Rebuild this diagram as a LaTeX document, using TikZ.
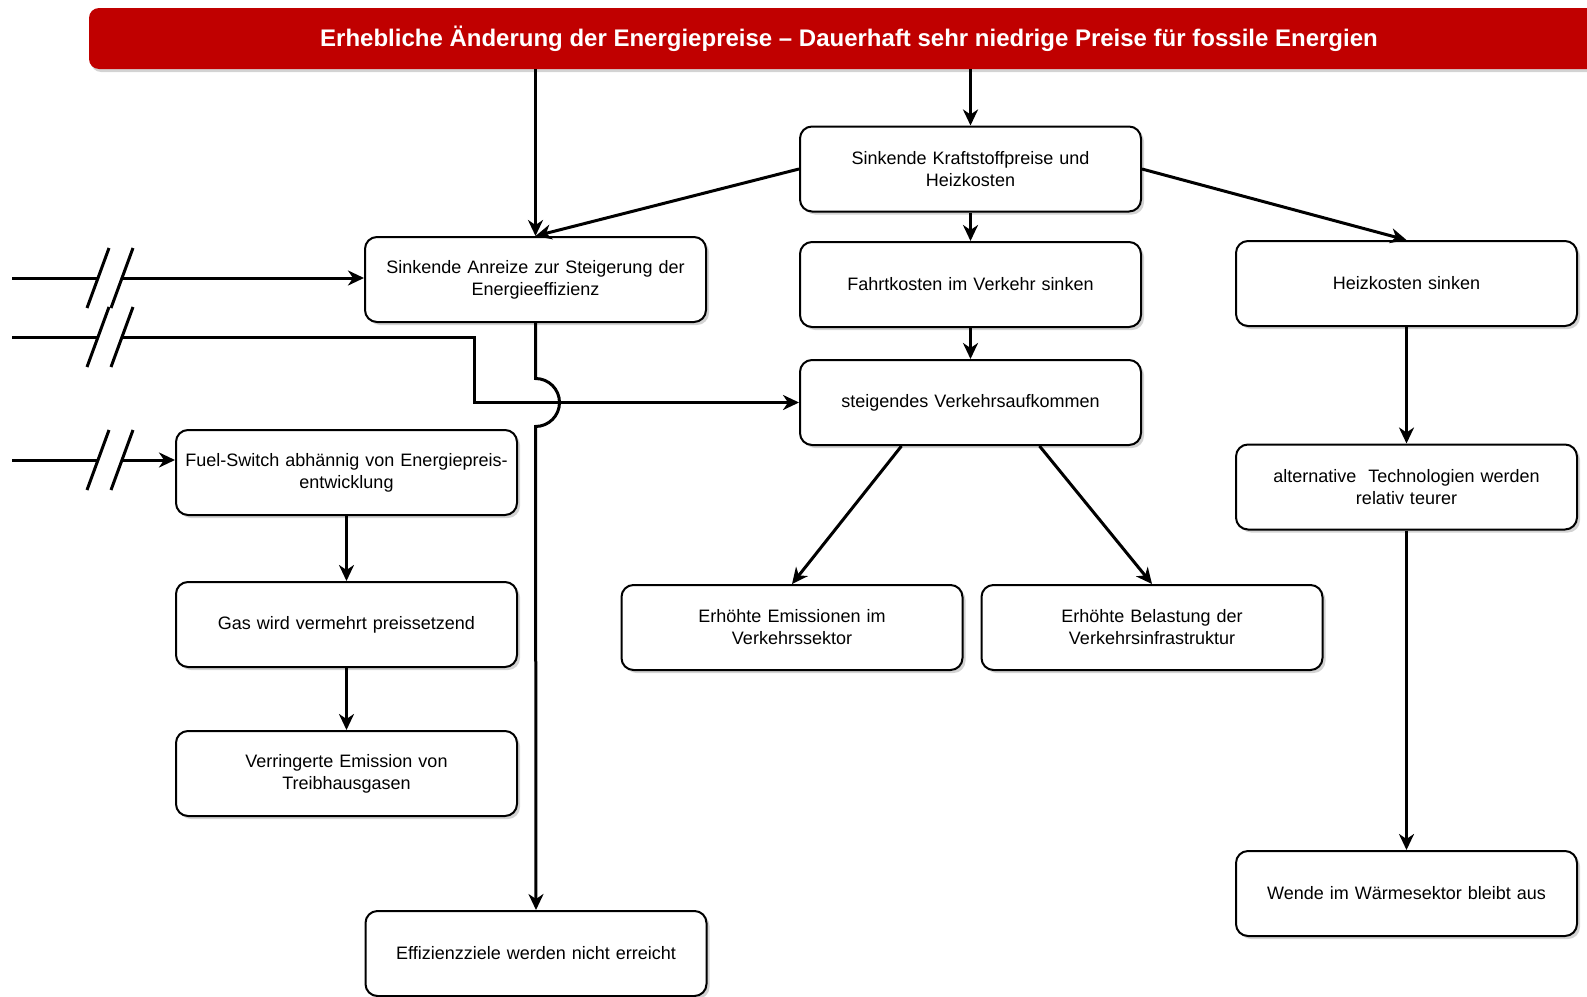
\documentclass[tikz,border=0pt]{standalone}
\usepackage{fontspec}
\setmainfont{Liberation Sans}
\usepackage{tikz}
\usepackage{xcolor}
\usetikzlibrary{
    arrows.meta,
    shadows,
    calc,
    positioning
}
\definecolor{headred}{HTML}{C00000}

\begin{document}
\begin{tikzpicture}[x=1pt, y=-1pt,
    box/.style={draw, line width=2pt, rounded corners=12pt, fill=white,
        minimum width=341pt, minimum height=85pt, text width=325pt, align=center,
        font=\fontsize{18}{22}\selectfont,
        drop shadow={shadow xshift=3pt, shadow yshift=-3pt, opacity=0.35}},
    headbar/.style={fill=headred, rounded corners=10pt, minimum width=1520pt, minimum height=61pt,
        text=white, font=\fontsize{24}{28}\selectfont\bfseries,
        drop shadow={shadow xshift=2pt, shadow yshift=-3pt, opacity=0.35}},
    link/.style={line width=3pt, -{Stealth[length=16pt, width=15pt, inset=5pt]}},
    wire/.style={line width=3pt}]
    \useasboundingbox (0, 0) rectangle (1587, 996);

    \node[headbar] (title) at (849, 38.5) {Erhebliche Änderung der Energiepreise – Dauerhaft sehr niedrige Preise für fossile Energien};

    \node[box] (kraft) at (970.5, 169) {Sinkende Kraftstoffpreise und\\Heizkosten};
    \node[box] (anreize) at (535.5, 279.5) {Sinkende Anreize zur Steigerung der\\Energieeffizienz};
    \node[box] (fahrt) at (970.5, 284.5) {Fahrtkosten im Verkehr sinken};
    \node[box] (heiz) at (1406.5, 283.5) {Heizkosten sinken};
    \node[box] (verkehr) at (970.5, 402.5) {steigendes Verkehrsaufkommen};
    \node[box] (fuel) at (346.5, 472.5) {Fuel-Switch abhännig von Energiepreis-\\entwicklung};
    \node[box] (alt) at (1406.5, 487) {alternative \ Technologien werden\\relativ teurer};
    \node[box] (emiss) at (792, 627.5) {Erhöhte Emissionen im\\Verkehrssektor};
    \node[box] (belast) at (1152, 627.5) {Erhöhte Belastung der\\Verkehrsinfrastruktur};
    \node[box] (gas) at (346.5, 624.5) {Gas wird vermehrt preissetzend};
    \node[box] (verr) at (346.5, 773.5) {Verringerte Emission von\\Treibhausgasen};
    \node[box] (wende) at (1406.5, 893.5) {Wende im Wärmesektor bleibt aus};
    \node[box] (effiz) at (536, 953.5) {Effizienzziele werden nicht erreicht};

    \foreach \y [count=\i] in {278, 337, 460} {
        \coordinate (src\i) at (12, \y);
        \coordinate (brk\i) at (122, \y);
        \draw[wire] (src\i) -- (98, \y);
        \draw[wire]
        (87, \y + 30) -- (109, \y - 30)
        (111, \y + 30) -- (133, \y - 30);
    }
    \coordinate (bend) at (474, 0 |- verkehr.west);

    \draw[link] (title.south -| anreize.north) -- (anreize.north);
    \draw[link] (title.south -| kraft.north) -- (kraft.north);
    \draw[link] (kraft.west) -- (anreize.north);
    \draw[link] (kraft.east) -- (heiz.north);
    \draw[link] (kraft.south) -- (fahrt.north);
    \draw[link] (fahrt.south) -- (verkehr.north);
    \draw[link] ($(verkehr.south) + (-69, 0)$) -- (emiss.north);
    \draw[link] ($(verkehr.south) + (69, 0)$) -- (belast.north);
    \draw[link] (heiz.south) -- (alt.north);
    \draw[link] (alt.south) -- (wende.north);
    \draw[link] (fuel.south) -- (gas.north);
    \draw[link] (gas.south) -- (verr.north);
    \draw[link] (brk1) -- (brk1 -| anreize.west);
    \draw[link] (brk3) -- (brk3 -| fuel.west);
    \draw[link] (brk2) -| (bend) -- (verkehr.west);
    \draw[link] (anreize.south) -- ($(anreize.south |- verkehr.west) + (0, -24)$)
        arc[start angle=-90, end angle=90, radius=24] -- (effiz.north);
\end{tikzpicture}
\end{document}
